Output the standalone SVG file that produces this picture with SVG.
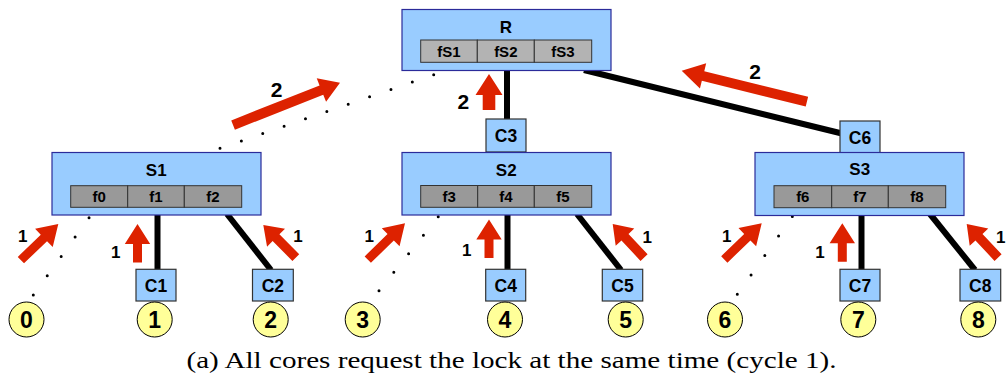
<svg xmlns="http://www.w3.org/2000/svg" width="1008" height="381" viewBox="0 0 1008 381">
<style>
.box{fill:#99CCFF;stroke:#2B2B9A;stroke-width:1.2}
.cbox{fill:#99CCFF;stroke:#333333;stroke-width:1.2}
.cell{fill:#999999;stroke:#333333;stroke-width:1}
.rcell{fill:#B3B3B3;stroke:#333333;stroke-width:1}
.core{fill:#FFFF99;stroke:#000000;stroke-width:1}
.t{font-family:"Liberation Sans",Arial,sans-serif;font-weight:bold;fill:#000;text-anchor:middle}
.nm{font-size:17px}
.cl{font-size:15px}
.cn{font-size:17.5px}
.num{font-size:23px}
.a1{font-size:17px}
.a2{font-size:21px}
.wire{stroke:#000;stroke-width:6;fill:none}
.dot{stroke:#000;stroke-width:3;stroke-linecap:round;fill:none}
.arr{fill:#DD2200}
.cap{font-family:"Liberation Serif","Times New Roman",serif;font-size:22.5px;fill:#000}
</style>
<defs>
<polygon id="sa" points="0,0 -20,-12.7 -20,-4.5 -52,-4.5 -52,4.5 -20,4.5 -20,12.7"/>
<polygon id="sd" points="0,0 -18,-12.7 -18,-4.8 -46,-4.8 -46,4.8 -18,4.8 -18,12.7"/>
<polygon id="sv" points="0,0 -20,-12.7 -20,-4.5 -38.5,-4.5 -38.5,4.5 -20,4.5 -20,12.7"/>
</defs>
<g id="connectors">
<line class="wire" x1="507" y1="70" x2="507" y2="120"/>
<line class="wire" x1="584" y1="70" x2="846" y2="134.5"/>
<line class="dot" x1="220" y1="148.3" x2="446" y2="70.5" stroke-dasharray="0,22.6"/>
<line class="wire" x1="157.5" y1="214" x2="157.5" y2="270"/>
<line class="wire" x1="227" y1="214" x2="271" y2="270"/>
<line class="wire" x1="507.5" y1="214" x2="507.5" y2="270"/>
<line class="wire" x1="577" y1="214" x2="621" y2="270"/>
<line class="wire" x1="861.5" y1="214" x2="861.5" y2="270"/>
<line class="wire" x1="930" y1="214" x2="975" y2="270"/>
<line class="dot" x1="33.3" y1="295" x2="103" y2="198.5" stroke-dasharray="0,23.8"/>
<line class="dot" x1="379" y1="290.7" x2="453" y2="198.2" stroke-dasharray="0,23.7"/>
<line class="dot" x1="737.3" y1="294.3" x2="806" y2="197.3" stroke-dasharray="0,23.8"/>
</g>
<g id="R">
<rect class="box" x="402" y="9.5" width="209" height="61"/>
<text class="t nm" x="506" y="32.5">R</text>
<rect class="rcell" x="420.7" y="40" width="56.6" height="22.3"/>
<rect class="rcell" x="477.3" y="40" width="57" height="22.3"/>
<rect class="rcell" x="534.3" y="40" width="57.4" height="22.3"/>
<text class="t cl" x="449" y="56.5">fS1</text>
<text class="t cl" x="505.8" y="56.5">fS2</text>
<text class="t cl" x="563" y="56.5">fS3</text>
</g>
<g id="C3">
<rect class="cbox" x="486" y="119" width="40" height="33"/>
<text class="t cn" x="506" y="141.7">C3</text>
</g>
<g id="C6">
<rect class="cbox" x="840" y="121" width="40" height="32"/>
<text class="t cn" x="860" y="143.5">C6</text>
</g>
<g id="S1">
<rect class="box" x="52" y="152.5" width="209" height="62.5"/>
<text class="t nm" x="156.2" y="175.5">S1</text>
<rect class="cell" x="70.7" y="185.7" width="57" height="21.6"/>
<rect class="cell" x="127.7" y="185.7" width="56.6" height="21.6"/>
<rect class="cell" x="184.3" y="185.7" width="57.4" height="21.6"/>
<text class="t cl" x="99.2" y="201.5">f0</text>
<text class="t cl" x="156" y="201.5">f1</text>
<text class="t cl" x="213" y="201.5">f2</text>
</g>
<g id="S2">
<rect class="box" x="402" y="152.5" width="209" height="62.5"/>
<text class="t nm" x="506.2" y="175.5">S2</text>
<rect class="cell" x="420.7" y="185.5" width="57" height="21.8"/>
<rect class="cell" x="477.7" y="185.5" width="56.6" height="21.8"/>
<rect class="cell" x="534.3" y="185.5" width="57.4" height="21.8"/>
<text class="t cl" x="449.2" y="201.5">f3</text>
<text class="t cl" x="506" y="201.5">f4</text>
<text class="t cl" x="563" y="201.5">f5</text>
</g>
<g id="S3">
<rect class="box" x="755" y="152.5" width="209" height="63"/>
<text class="t nm" x="859.7" y="175.3">S3</text>
<rect class="cell" x="774" y="185.7" width="57.7" height="22"/>
<rect class="cell" x="831.7" y="185.7" width="56.6" height="22"/>
<rect class="cell" x="888.3" y="185.7" width="57.4" height="22"/>
<text class="t cl" x="802.8" y="201.8">f6</text>
<text class="t cl" x="860" y="201.8">f7</text>
<text class="t cl" x="917" y="201.8">f8</text>
</g>
<g id="C1"><rect class="cbox" x="136" y="269.3" width="40" height="31.7"/><text class="t cn" x="156" y="291.7">C1</text></g>
<g id="C2"><rect class="cbox" x="252.5" y="269.3" width="40.8" height="31.7"/><text class="t cn" x="272.9" y="291.7">C2</text></g>
<g id="C4"><rect class="cbox" x="485.7" y="269.3" width="40" height="31.7"/><text class="t cn" x="505.7" y="291.7">C4</text></g>
<g id="C5"><rect class="cbox" x="602.3" y="269.3" width="40.4" height="31.7"/><text class="t cn" x="622.5" y="291.7">C5</text></g>
<g id="C7"><rect class="cbox" x="840" y="269.3" width="40" height="31.7"/><text class="t cn" x="860" y="291.7">C7</text></g>
<g id="C8"><rect class="cbox" x="960" y="269.3" width="40.7" height="31.7"/><text class="t cn" x="980.3" y="291.7">C8</text></g>
<g id="core0"><circle class="core" cx="26.5" cy="319.5" r="17.5"/><text class="t num" x="26.5" y="327.6">0</text></g>
<g id="core1"><circle class="core" cx="154.7" cy="319.5" r="17.5"/><text class="t num" x="154.7" y="327.6">1</text></g>
<g id="core2"><circle class="core" cx="270.7" cy="319.5" r="17.5"/><text class="t num" x="270.7" y="327.6">2</text></g>
<g id="core3"><circle class="core" cx="362.7" cy="319.5" r="17.5"/><text class="t num" x="362.7" y="327.6">3</text></g>
<g id="core4"><circle class="core" cx="505" cy="319.5" r="17.5"/><text class="t num" x="505" y="327.6">4</text></g>
<g id="core5"><circle class="core" cx="625.7" cy="319.5" r="17.5"/><text class="t num" x="625.7" y="327.6">5</text></g>
<g id="core6"><circle class="core" cx="725" cy="319.5" r="17.5"/><text class="t num" x="725" y="327.6">6</text></g>
<g id="core7"><circle class="core" cx="858.3" cy="319.5" r="17.5"/><text class="t num" x="858.3" y="327.6">7</text></g>
<g id="core8"><circle class="core" cx="978.3" cy="319.5" r="17.5"/><text class="t num" x="978.3" y="327.6">8</text></g>
<g id="arrows" class="arr">
<polygon points="0,0 -20,-12.7 -20,-5 -115,-5 -115,5 -20,5 -20,12.7" transform="translate(340,82.7) rotate(-21.6)"/>
<polygon points="0,0 -22,-13 -22,-5 -129,-5 -129,5 -22,5 -22,13" transform="translate(681.7,70.7) rotate(-166.1)"/>
<polygon points="0,0 -21,-13.5 -21,-6.3 -36,-6.3 -36,6.3 -21,6.3 -21,13.5" transform="translate(489,74) rotate(-90)"/>
<use href="#sa" transform="translate(58.3,224) rotate(-44)"/>
<use href="#sv" transform="translate(137.5,224) rotate(-90)"/>
<use href="#sd" transform="translate(263.3,225) rotate(-135)"/>
<use href="#sa" transform="translate(405,223.3) rotate(-44.3)"/>
<use href="#sv" transform="translate(489,219.5) rotate(-90)"/>
<use href="#sd" transform="translate(612.7,224) rotate(-133)"/>
<use href="#sa" transform="translate(761.7,223.3) rotate(-44)"/>
<use href="#sv" transform="translate(842.3,223.3) rotate(-90)"/>
<use href="#sd" transform="translate(966.7,224) rotate(-133)"/>
</g>
<g id="arrow-labels">
<text class="t a2" x="276.7" y="96.7">2</text>
<text class="t a2" x="755" y="79.3">2</text>
<text class="t a2" x="463.3" y="109">2</text>
<text class="t a1" x="22.7" y="241.7">1</text>
<text class="t a1" x="115.7" y="258.3">1</text>
<text class="t a1" x="298" y="241.7">1</text>
<text class="t a1" x="369.3" y="241.7">1</text>
<text class="t a1" x="466.7" y="256">1</text>
<text class="t a1" x="647.3" y="243.3">1</text>
<text class="t a1" x="726.7" y="241.7">1</text>
<text class="t a1" x="820" y="258.3">1</text>
<text class="t a1" x="1000.7" y="243.3">1</text>
</g>
<text class="cap" x="186.5" y="368" textLength="650" lengthAdjust="spacingAndGlyphs">(a) All cores request the lock at the same time (cycle 1).</text>
</svg>
